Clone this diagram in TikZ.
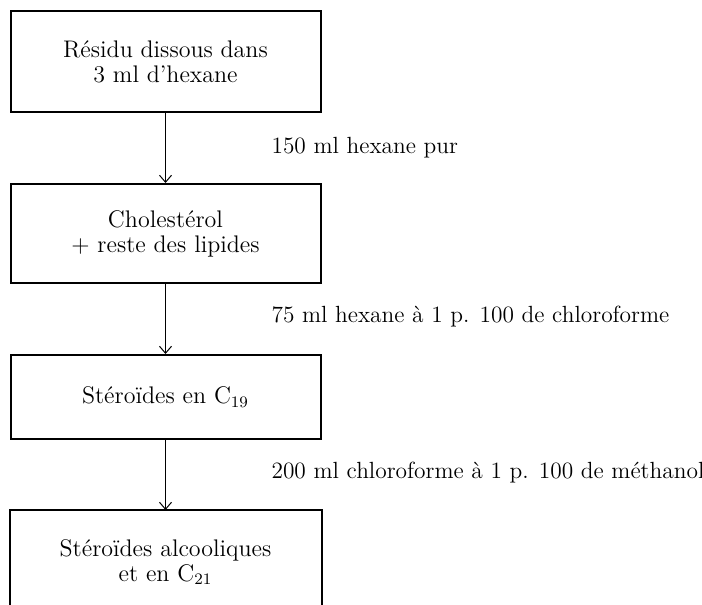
\documentclass[tikz,border=0pt]{standalone}
\usepackage{tikz}
\usetikzlibrary{positioning,arrows.meta}

\begin{document}
\begin{tikzpicture}[
    x=0.5pt,
    y=-0.5pt,
    stage/.style={
        line width=1pt,
        align=center,
        minimum width=155pt,
        font=\fontsize{12}{12.5}\selectfont
    },
    step label/.style={
        anchor=west,
        font=\fontsize{11.7}{12.5}\selectfont
    },
    flow/.style={
        -{Straight Barb[length=3.5pt,width=6pt]},
        line width=0.5pt
    }
]

\useasboundingbox (0,0) rectangle (702,605);

\node[stage, draw, minimum height=50.5pt] (res) at (165.5,61.5)
    {R\'esidu dissous dans\\3 ml d'hexane};
\node[stage, draw, minimum height=49.5pt, below=35pt of res] (chol)
    {Cholest\'erol\\$+$ reste des lipides};
\node[stage, draw, minimum height=42pt, below=35pt of chol] (ctn)
    {St\'ero\"ides en C$_{19}$};
\node[stage, minimum height=51pt, below=35pt of ctn] (alc)
    {St\'ero\"ides alcooliques\\et en C$_{21}$};

% open bottom
\draw[line width=1pt] (alc.south west) -- (alc.north west) -- (alc.north east) -- (alc.south east);

\draw[flow] (res) -- coordinate[pos=0.5] (m1) (chol);
\draw[flow] (chol) -- coordinate[pos=0.5] (m2) (ctn);
\draw[flow] (ctn) -- coordinate[pos=0.5] (m3) (alc);

\node[step label, right=49.5pt of m1] (l1) {150 ml hexane pur};
\node[step label, right=49.5pt of m2, yshift=1pt] (l2) {75 ml hexane \`a 1 p. 100 de chloroforme};
\node[step label, right=49.5pt of m3, yshift=1pt] (l3) {200 ml chloroforme \`a 1 p. 100 de m\'ethanol};

\end{tikzpicture}
\end{document}
